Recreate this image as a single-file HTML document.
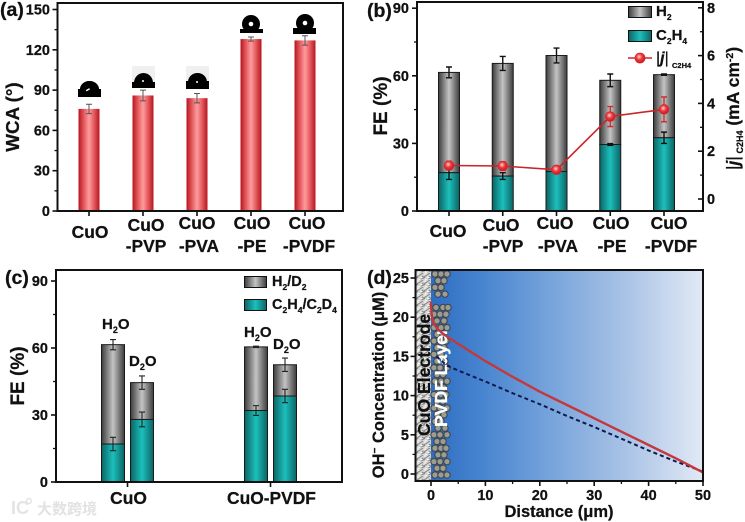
<!DOCTYPE html>
<html lang="en">
<head>
<meta charset="utf-8">
<title>Four-panel CuO wettability and electrolysis chart</title>
<style>
html,body{margin:0;padding:0;background:#fff;width:745px;height:522px;overflow:hidden}
svg{display:block}
text{font-family:"Liberation Sans","Noto Sans CJK SC",sans-serif;font-weight:bold;fill:#111;stroke:#111;stroke-width:.25px}
</style>
</head>
<body>
<svg id="fig" xmlns="http://www.w3.org/2000/svg" width="745" height="522" viewBox="0 0 745 522">
  <defs>
    <linearGradient id="gr" x1="0" x2="1" y1="0" y2="0"><stop offset="0" stop-color="#b5161d"/><stop offset=".18" stop-color="#d9444a"/><stop offset=".5" stop-color="#ff9c9c"/><stop offset=".82" stop-color="#d9444a"/><stop offset="1" stop-color="#b5161d"/></linearGradient>
    <linearGradient id="gg" x1="0" x2="1" y1="0" y2="0"><stop offset="0" stop-color="#3c3c3c"/><stop offset=".5" stop-color="#c4c4c4"/><stop offset="1" stop-color="#3c3c3c"/></linearGradient>
    <linearGradient id="gt" x1="0" x2="1" y1="0" y2="0"><stop offset="0" stop-color="#0b6464"/><stop offset=".5" stop-color="#1cc0bc"/><stop offset="1" stop-color="#0b6464"/></linearGradient>
    <radialGradient id="ball" cx=".42" cy=".38" r=".65"><stop offset="0" stop-color="#ffd5d5"/><stop offset=".45" stop-color="#ef3b3f"/><stop offset="1" stop-color="#c0181e"/></radialGradient>
    <linearGradient id="bgd" x1="0" x2="1" y1="0" y2="0"><stop offset="0" stop-color="#2d6dc2"/><stop offset=".2" stop-color="#4a86d0"/><stop offset=".45" stop-color="#79a5dc"/><stop offset=".7" stop-color="#a6c1e5"/><stop offset="1" stop-color="#e2e9f5"/></linearGradient>
    <pattern id="tex" width="7" height="7" patternUnits="userSpaceOnUse"><rect width="7" height="7" fill="#d4d4d2"/><path d="M0 2L3 0M4 4L7 2M1 6L4 5M2 3L5 5" stroke="#7c7c7c" stroke-width=".9" fill="none"/><path d="M0 4L2 5M4 1L6 1M5 6L7 7" stroke="#f6f6f6" stroke-width="1" fill="none"/></pattern>
  </defs>

  <!-- Panel d background (under everything in the panel) -->
  <rect x="431" y="270" width="272" height="211" fill="url(#bgd)"/>
  <rect x="416" y="270" width="15" height="211" fill="url(#tex)"/>
  <g id="particles"></g>
  <text transform="translate(430,436) rotate(-90)" font-size="17.6">CuO Electrode</text>
  <text transform="translate(447,427) rotate(-90)" font-size="17.6" style="fill:#fff;stroke:#fff">PVDF Layer</text>

  <!-- Droplet insets, panel a -->
  <g fill="#000">
    <rect x="132" y="66" width="23" height="16" fill="#f0f0f0"/><rect x="186" y="66" width="23" height="16" fill="#f0f0f0"/>
    <path d="M78 89h23v8h-23zM80 89a9.500 8 0 0 1 19 0z"/><path d="M80 90a9.500 9 0 0 1 19 0z"/>
    <path d="M132 82h23v6h-23zM134 83a9.500 10 0 0 1 19 0z"/>
    <path d="M186 81h23v8h-23zM188 82a9.500 9 0 0 1 19 0z"/>
    <circle cx="251" cy="24" r="9"/><path d="M240 29h23v4h-23zM245 27h12v3h-12z"/>
    <circle cx="305" cy="23" r="9"/><path d="M293 28h23v6h-23z"/>
    <rect x="86" y="89" width="4" height="1.500" fill="#fff" transform="rotate(-30 88 90)"/>
    <circle cx="143" cy="81" r="1" fill="#fff"/><circle cx="197" cy="82" r="1" fill="#fff"/>
    <circle cx="251" cy="24" r="2.300" fill="#fff"/><circle cx="305" cy="23" r="2.300" fill="#fff"/>
  </g>

  <!-- Panel labels and titles -->
  <text x="0" y="16" font-size="19.500">(a)</text>
  <text x="367" y="17" font-size="19.500">(b)</text>
  <text x="5" y="284" font-size="19.500">(c)</text>
  <text x="367" y="284" font-size="19.500">(d)</text>
  <text transform="translate(19,117) rotate(-90)" text-anchor="middle" font-size="18.800">WCA (°)</text>
  <text transform="translate(387,106) rotate(-90)" text-anchor="middle" font-size="19">FE (%)</text>
  <text transform="translate(24,376) rotate(-90)" text-anchor="middle" font-size="19">FE (%)</text>
  <text transform="translate(384,385) rotate(-90)" text-anchor="middle" font-size="16.500">OH<tspan font-size="10" dy="-6">−</tspan><tspan dy="6"> Concentration (μM)</tspan></text>
  <text x="559" y="517" text-anchor="middle" font-size="16.500">Distance (μm)</text>
  <text transform="translate(739,170) rotate(-90)" font-size="17.500" style="font-weight:normal">|<tspan font-style="italic" font-weight="bold">j</tspan>|<tspan font-size="9" font-weight="bold" dy="4"> C2H4</tspan><tspan dy="-4" font-weight="bold"> (mA cm</tspan><tspan font-size="10.500" font-weight="bold" dy="-6">-2</tspan><tspan dy="6" font-weight="bold">)</tspan></text>

  <!-- Legend b -->
  <g>
    <rect x="628.500" y="6.500" width="23" height="11" fill="url(#gg)" stroke="#111"/>
    <text x="656" y="16" font-size="15">H<tspan font-size="8.500" dy="4">2</tspan></text>
    <rect x="628.500" y="30.500" width="23" height="11" fill="url(#gt)" stroke="#111"/>
    <text x="656" y="40" font-size="15">C<tspan font-size="8.500" dy="4">2</tspan><tspan dy="-4">H</tspan><tspan font-size="8.500" dy="4">4</tspan></text>
    <line x1="628" x2="652" y1="58" y2="58" stroke="#d1262c" stroke-width="1.500"/>
    <circle cx="640" cy="58" r="5" fill="url(#ball)" stroke="#d1262c" stroke-width=".8"/>
    <text x="656" y="63" font-size="16" style="font-weight:normal">|<tspan font-style="italic" font-weight="bold">j</tspan>|</text>
    <text x="672" y="68" font-size="7.500">C2H4</text>
  </g>

  <!-- Legend c -->
  <g>
    <rect x="244.500" y="276.500" width="22" height="11" fill="url(#gg)" stroke="#111"/>
    <text x="272" y="286" font-size="14.500">H<tspan font-size="8.500" dy="4">2</tspan><tspan dy="-4">/D</tspan><tspan font-size="8.500" dy="4">2</tspan></text>
    <rect x="244.500" y="299.500" width="22" height="11" fill="url(#gt)" stroke="#111"/>
    <text x="272" y="309" font-size="14.500">C<tspan font-size="8.500" dy="4">2</tspan><tspan dy="-4">H</tspan><tspan font-size="8.500" dy="4">4</tspan><tspan dy="-4">/C</tspan><tspan font-size="8.500" dy="4">2</tspan><tspan dy="-4">D</tspan><tspan font-size="8.500" dy="4">4</tspan></text>
  </g>

  <!-- Solvent annotations c -->
  <text x="102" y="329" font-size="15">H<tspan font-size="9" dy="4">2</tspan><tspan dy="-4">O</tspan></text>
  <text x="129" y="366" font-size="15">D<tspan font-size="9" dy="4">2</tspan><tspan dy="-4">O</tspan></text>
  <text x="244" y="337" font-size="15">H<tspan font-size="9" dy="4">2</tspan><tspan dy="-4">O</tspan></text>
  <text x="273" y="349" font-size="15">D<tspan font-size="9" dy="4">2</tspan><tspan dy="-4">O</tspan></text>

  <!-- Watermark -->
  <g>
    <text x="11" y="514" font-size="18" style="fill:#e4e4e4;stroke:none">IC</text>
    <circle cx="29" cy="501" r="2.500" fill="none" stroke="#e4e4e4" stroke-width="1.500"/>
    <text x="37" y="514" font-size="15" style="fill:#e2e2e2;stroke:none">大数跨境</text>
  </g>
</svg>

<script>
// ---------- Panel (a) data ----------
const categoriesAB = [["CuO"], ["CuO", "-PVP"], ["CuO", "-PVA"], ["CuO", "-PE"], ["CuO", "-PVDF"]];
const wcaValues = [76, 86, 84, 128, 127];
const wcaErrors = [3.5, 4, 3.5, 1.5, 3.5];
const wcaTicks = [0, 30, 60, 90, 120, 150];
const wcaMinorTicks = [15, 45, 75, 105, 135];

// ---------- Panel (b) data ----------
const feH2Top = [61.5, 65.5, 69, 58, 60.5];
const feH2TopErrors = [2.4, 3.1, 3.3, 2.8, 0.3];
const feC2H4 = [17, 15.5, 17.5, 29.5, 32.5];
const feC2H4Errors = [3, 1.5, 0.3, 0.4, 2.5];
const jValues = [1.4, 1.38, 1.22, 3.45, 3.75];
const jErrors = [0.18, 0.18, 0.12, 0.42, 0.52];
const feTicksB = [0, 30, 60, 90];
const feMinorTicksB = [15, 45, 75];
const jTicks = [0, 2, 4, 6, 8];
const jMinorTicks = [1, 3, 5, 7];

// ---------- Panel (c) data ----------
const groupsC = ["CuO", "CuO-PVDF"];
const isoTopH2O = [61.5, 60.5];
const isoTopH2OErrors = [2.3, 0.3];
const isoBaseH2O = [17, 32];
const isoBaseH2OErrors = [3, 2.2];
const isoTopD2O = [44.5, 52.5];
const isoTopD2OErrors = [3, 3];
const isoBaseD2O = [28, 38.5];
const isoBaseD2OErrors = [3.3, 3];
const feTicksC = [0, 30, 60, 90];
const feMinorTicksC = [15, 45, 75];

// ---------- Panel (d) data ----------
const redDistance = [0, 0.05, 0.15, 0.4, 1, 2, 3, 5, 10, 15, 20, 25, 30, 35, 40, 45, 50];
const redConcentration = [22, 21, 20.2, 19.3, 18.7, 18, 17.5, 16.6, 14.4, 12.4, 10.5, 8.8, 7.1, 5.4, 3.7, 2, 0.2];
const dashDistance = [1, 2, 3, 5, 10, 15, 20, 25, 30, 35, 40, 45, 50];
const dashConcentration = [15, 14.4, 13.8, 13.2, 11.8, 10.3, 8.9, 7.4, 6, 4.5, 3, 1.6, 0.3];
const distanceTicks = [0, 10, 20, 30, 40, 50];
const distanceMinorTicks = [5, 15, 25, 35, 45];
const concentrationTicks = [0, 5, 10, 15, 20, 25];
const concentrationMinorTicks = [2.5, 7.5, 12.5, 17.5, 22.5];

// ---------- Axis functions ----------
const yA = v => 211 - v * 40.3 / 30;
const xA = i => 89 + i * 54;
const yB = v => 211 - v * 67.6 / 30;
const yJ = v => 199 - v * 23.9;
const xB = i => 449 + i * 53.75;
const yC = v => 482 - v * 67 / 30;
const xC = i => 127.5 + i * 143;
const xD = v => 431 + v * 5.44;
const yD = v => 474 - v * 7.84;

const svg = document.getElementById('fig');
const NS = 'http://www.w3.org/2000/svg';
function add(tag, attrs, parent) {
  const e = document.createElementNS(NS, tag);
  for (const k in attrs) e.setAttribute(k, attrs[k]);
  (parent || svg).appendChild(e);
  return e;
}
function frame(x1, y1, x2, y2, name) {
  const r = add('rect', { x: x1, y: y1, width: x2 - x1, height: y2 - y1, fill: 'none', stroke: '#111', 'stroke-width': 2 });
  
  
}
function tick(x1, y1, x2, y2, width) {
  const l = add('line', { x1: x1, y1: y1, x2: x2, y2: y2, stroke: '#111', 'stroke-width': width });
  
  
}
function label(str, x, y, size, anchor) {
  const t = add('text', { x: x, y: y, 'font-size': size, 'text-anchor': anchor });
  t.textContent = str;
  
  
}
function yAxis(ticks, minor, scale, axisX, labelX, dir) {
  ticks.forEach(v => {
    tick(axisX, scale(v), axisX + dir * 5, scale(v), 1.6);
    label(String(v), labelX, scale(v) + 5, 14.5, 'end');
  });
  minor.forEach(v => tick(axisX, scale(v), axisX + dir * 3, scale(v), 1.3));
}
function err(x, yv, e, scale, color, width, capHalf) {
  const g = add('path', {
    d: 'M' + (x - capHalf) + ' ' + scale(yv + e) + 'H' + (x + capHalf) +
       'M' + x + ' ' + scale(yv + e) + 'V' + scale(yv - e) +
       'M' + (x - capHalf) + ' ' + scale(yv - e) + 'H' + (x + capHalf),
    fill: 'none', stroke: color, 'stroke-width': width
  });
  
  
}
function stackBar(x, w, top, base, scale, zero) {
  const g = add('rect', { x: x - w / 2, y: scale(top), width: w, height: scale(base) - scale(top), fill: 'url(#gg)', stroke: '#1a1a1a', 'stroke-width': 1 });
  
  
  const t = add('rect', { x: x - w / 2, y: scale(base), width: w, height: zero - scale(base), fill: 'url(#gt)', stroke: '#1a1a1a', 'stroke-width': 1 });
  
  
}
function linePath(xs, ys, sx, sy) {
  return xs.map((v, i) => (i ? 'L' : 'M') + sx(v).toFixed(1) + ' ' + sy(ys[i]).toFixed(1)).join('');
}

// ---------- Decorative PVDF particles ----------
const particleLayer = document.getElementById('particles');
const particleRows = [[435,441,447],[438,444],[435,441],[438,445],[],[436,443,448],[434,440,446],[437,444],[434,441,447],[437,443],[434,440,446],[437,444],[434,441],[437,445],[434,440,447],[437,443],[435,441,447],[438,444],[434,441,446],[437,443],[434,440,447],[437,444],[435,441],[438,445],[434,440,447],[437,443],[435,441,446],[438,444],[434,440,447],[437,443],[435,441,447]];
particleRows.forEach((row, i) => row.forEach(px => {
  const c = add('circle', { cx: px, cy: 274 + i * 6.7, r: 3.2, fill: '#9c9c90', stroke: '#3f4650', 'stroke-width': 1.1 }, particleLayer);
  
  
}));

// ---------- Panel (a) ----------
wcaValues.forEach((v, i) => {
  const r = add('rect', { x: xA(i) - 10.5, y: yA(v), width: 21, height: 211 - yA(v), fill: 'url(#gr)' });
  
  
  err(xA(i), v, wcaErrors[i], yA, '#555', 1, 3);
  tick(xA(i), 211, xA(i), 216, 1.6);
});
frame(57.5, 3, 343, 211, 'panel-a-frame');
yAxis(wcaTicks, wcaMinorTicks, yA, 57.5, 50, -1);
const labelXA = [[90], [146, 146], [197, 199], [252, 252], [307, 309]];
const labelYA = [[238], [231, 252], [229, 252], [229, 252], [229, 252]];
categoriesAB.forEach((lines, i) => lines.forEach((s, j) => label(s, labelXA[i][j], labelYA[i][j], 17.4, 'middle')));

// ---------- Panel (b) ----------
feH2Top.forEach((v, i) => {
  stackBar(xB(i), 21, v, feC2H4[i], yB, 211);
  err(xB(i), v, feH2TopErrors[i], yB, '#111', 1.4, 3);
  err(xB(i), feC2H4[i], feC2H4Errors[i], yB, '#111', 1.4, 3);
  tick(xB(i), 211, xB(i), 216, 1.6);
});
const jLine = add('path', { d: linePath(jValues.map((_, i) => i), jValues, xB, yJ), fill: 'none', stroke: '#c8242b', 'stroke-width': 1.6 });


jValues.forEach((v, i) => {
  err(xB(i), v, jErrors[i], yJ, '#d1262c', 1.3, 3);
  const c = add('circle', { cx: xB(i), cy: yJ(v), r: 4.8, fill: 'url(#ball)', stroke: '#d1262c', 'stroke-width': .8 });
  
  
});
frame(417, 2, 703, 211, 'panel-b-frame');
yAxis(feTicksB, feMinorTicksB, yB, 417, 409, -1);
jTicks.forEach(v => {
  tick(703, yJ(v), 698, yJ(v), 1.6);
  label(String(v), 707, yJ(v) + 5, 14.5, 'start');
});
jMinorTicks.forEach(v => tick(703, yJ(v), 700, yJ(v), 1.3));
const labelXB = [[448], [501, 503], [555, 558], [611, 612], [669, 671]];
const labelYB = [[237], [231, 252], [229, 252], [229, 252], [229, 252]];
categoriesAB.forEach((lines, i) => lines.forEach((s, j) => label(s, labelXB[i][j], labelYB[i][j], 17.4, 'middle')));

// ---------- Panel (c) ----------
groupsC.forEach((g, i) => {
  const cx = xC(i);
  stackBar(cx - 14.5, 23, isoTopH2O[i], isoBaseH2O[i], yC, 482);
  err(cx - 14.5, isoTopH2O[i], isoTopH2OErrors[i], yC, '#222', 1.1, 3);
  err(cx - 14.5, isoBaseH2O[i], isoBaseH2OErrors[i], yC, '#222', 1.1, 3);
  stackBar(cx + 14.5, 23, isoTopD2O[i], isoBaseD2O[i], yC, 482);
  err(cx + 14.5, isoTopD2O[i], isoTopD2OErrors[i], yC, '#222', 1.1, 3);
  err(cx + 14.5, isoBaseD2O[i], isoBaseD2OErrors[i], yC, '#222', 1.1, 3);
  tick(cx, 482, cx, 487, 1.6);
  label(g, cx + 1, 504, 17.4, 'middle');
});
frame(56, 270, 342, 482, 'panel-c-frame');
yAxis(feTicksC, feMinorTicksC, yC, 56, 48, -1);

// ---------- Panel (d) ----------
const dashLine = add('path', { d: linePath(dashDistance, dashConcentration, xD, yD), fill: 'none', stroke: '#0d1a50', 'stroke-width': 2, 'stroke-dasharray': '4 3' });


const redLine = add('path', { d: linePath(redDistance, redConcentration, xD, yD), fill: 'none', stroke: '#c4383d', 'stroke-width': 2.4 });


frame(415.5, 270, 703, 481, 'panel-d-frame');
yAxis(concentrationTicks, concentrationMinorTicks, yD, 415.5, 409, -1);
distanceTicks.forEach(v => {
  tick(xD(v), 481, xD(v), 486, 1.6);
  label(String(v), xD(v), 500, 14.5, 'middle');
});
distanceMinorTicks.forEach(v => tick(xD(v), 481, xD(v), 484, 1.3));
</script>
</body>
</html>
